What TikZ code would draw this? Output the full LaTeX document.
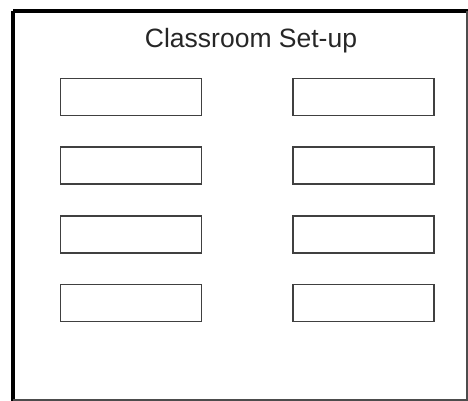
\documentclass[tikz,border=0pt]{standalone}
\usepackage{fontspec}
\setmainfont{Liberation Sans}
\usepackage{tikz}
\usetikzlibrary{positioning}
\tikzstyle{desk} = [draw=black!75, rectangle, line width=1.6pt, minimum width=141pt, minimum height=37pt, inner sep=0pt, node distance=30pt and 90pt]
\tikzstyle{title} = [font=\fontsize{26.5}{30}\selectfont, anchor=base, text=black!85]

\begin{document}
\begin{tikzpicture}[x=1pt, y=-1pt]
    \useasboundingbox (0,0) rectangle (468,401);
    % Room outline
    \draw [line width=4.5pt] (13,11) -- (470,11);
    \draw [line width=4.5pt] (13,11) -- (13,404);
    \draw [line width=1.5pt, black!70] (467,11) -- (467,401);
    \draw [line width=1.5pt, black!70] (13,400) -- (468,400);

    \node (heading) [title] at (251,48) {Classroom Set-up};

    % Draw desks
    \node (l1) [desk] at (131,97) {};
    \node (l2) [desk, below=of l1] {};
    \node (l3) [desk, below=of l2] {};
    \node (l4) [desk, below=of l3] {};

    \node (r1) [desk, right=of l1] {};
    \node (r2) [desk, right=of l2] {};
    \node (r3) [desk, right=of l3] {};
    \node (r4) [desk, right=of l4] {};
\end{tikzpicture}
\end{document}
